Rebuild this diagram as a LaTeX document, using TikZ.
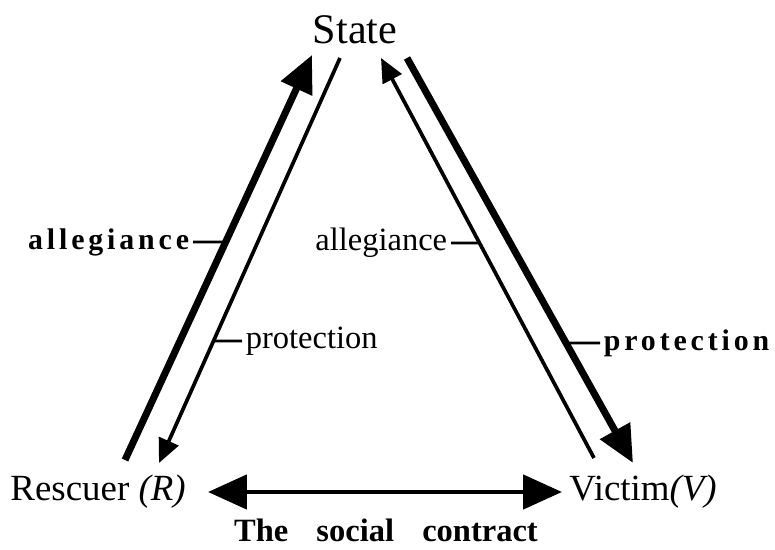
\documentclass[tikz,border=0pt]{standalone}
\usepackage{fontspec}
\setmainfont{Liberation Serif}
\usetikzlibrary{arrows.meta,calc}

\begin{document}
\begin{tikzpicture}[x=0.02cm,y=-0.02cm,
		bigtip/.style={-{Triangle[length=0.74cm,width=0.66cm]}},
		smalltip/.style={-{Triangle[length=0.48cm,width=0.42cm]}},
		heavy/.style={line width=4pt},
		light/.style={line width=2.1pt},
		tick/.style={line width=1.6pt},
		plainlbl/.style={font=\fontsize{18.5}{22}\selectfont, inner sep=2pt},
		spacedlbl/.style={font=\fontsize{17}{20}\selectfont\bfseries\addfontfeature{LetterSpace=13}, inner sep=2pt},
		corner/.style={font=\fontsize{21}{25}\selectfont, inner sep=0pt}]

		\useasboundingbox (0,0) rectangle (775,550);

		% corners of the triangle
		\node (state) at (355,30) {\fontsize{24}{28}\selectfont State};
		\node[corner, anchor=east] (rescuer) at (186,492) {Rescuer \textit{(R)}};
		\node[corner, anchor=west] (victim) at (569,492) {Victim\textit{(V)}};
		\node[font=\fontsize{18.5}{22}\selectfont\bfseries] (contract) at (386,530)
			{The\hspace{16pt}social\hspace{16pt}contract};

		% ends of the slanted arrows
		\coordinate (rfoot) at (125,460);
		\coordinate (rtop) at (340,58);
		\coordinate (vfoot) at (594,458);
		\coordinate (vtop) at (407,58);
		\coordinate (stateL) at (312,55);
		\coordinate (stateR) at (381,58);
		\coordinate (rtip) at (159,463);
		\coordinate (vtip) at (633,463);

		\draw[heavy, bigtip] (rfoot) -- (stateL) coordinate[pos=0.538] (allegL);
		\draw[light, smalltip] (rtop) -- (rtip) coordinate[pos=0.699] (protL);
		\draw[light, smalltip] (vfoot) -- (stateR) coordinate[pos=0.5375] (allegR);
		\draw[heavy, bigtip] (vtop) -- (vtip) coordinate[pos=0.7037] (protR);

		% the social contract
		\draw[line width=2.8pt, {Triangle[length=0.78cm,width=0.68cm]}-{Triangle[length=0.78cm,width=0.68cm]}]
			($(rescuer.east)+(22,0)$) -- ($(victim.west)+(-7,0)$);

		% labels
		\node[spacedlbl, anchor=east] (allegLlbl) at (193,242) {allegiance};
		\node[plainlbl, anchor=west] (protLlbl) at (242,341) {protection};
		\node[plainlbl, anchor=east] (allegRlbl) at (451,243) {allegiance};
		\node[spacedlbl, anchor=west] (protRlbl) at (600,343) {protection};

		\draw[tick] (allegLlbl.east) -- (allegL);
		\draw[tick] (protL) -- (protLlbl.west);
		\draw[tick] (allegRlbl.east) -- (allegR);
		\draw[tick] (protR) -- (protRlbl.west);

\end{tikzpicture}
\end{document}
